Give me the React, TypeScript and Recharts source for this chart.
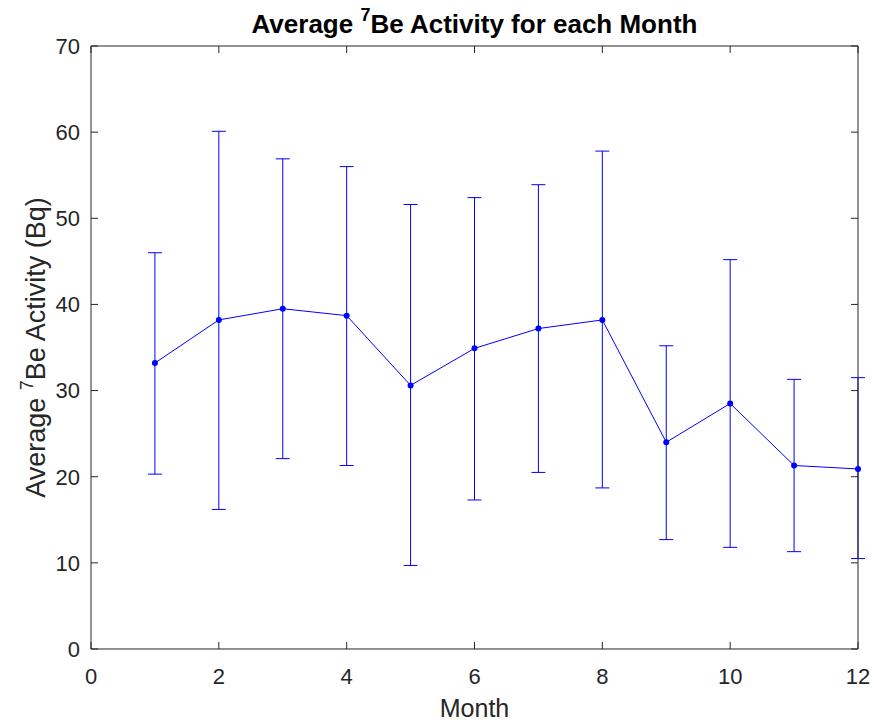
import React from 'react';
import { ComposedChart, Line, XAxis, YAxis, ErrorBar, Label } from 'recharts';

const months = [1, 2, 3, 4, 5, 6, 7, 8, 9, 10, 11, 12];
const meanActivity = [33.2, 38.2, 39.5, 38.7, 30.6, 34.9, 37.2, 38.2, 24.0, 28.5, 21.3, 20.9];
const upperBound = [46.0, 60.1, 56.9, 56.0, 51.6, 52.4, 53.9, 57.8, 35.2, 45.2, 31.3, 31.5];
const lowerBound = [20.3, 16.2, 22.1, 21.3, 9.7, 17.3, 20.5, 18.7, 12.7, 11.8, 11.3, 10.5];

const xTicks = [0, 2, 4, 6, 8, 10, 12];
const yTicks = [0, 10, 20, 30, 40, 50, 60, 70];

const data = months.map((m, i) => ({
  month: m,
  mean: meanActivity[i],
  err: [
    +(meanActivity[i] - lowerBound[i]).toFixed(2),
    +(upperBound[i] - meanActivity[i]).toFixed(2),
  ],
}));

const AXIS = '#262626';
const BLUE = '#0000ff';
const FONT = '"Liberation Sans", Arial, Helvetica, sans-serif';
// axes need a non-zero size to be drawn, but should take no room
const THIN = 0.001;

const blank = () => '';

function Title(props: any) {
  const vb = props.viewBox;
  return (
    <text
      x={vb.x + vb.width / 2}
      y={33}
      textAnchor="middle"
      fontSize={26}
      fontWeight="bold"
      fill="#000"
      fontFamily={FONT}
    >
      Average <tspan fontSize={18} dy={-12}>7</tspan>
      <tspan dy={12}>Be Activity for each Month</tspan>
    </text>
  );
}

function XTitle(props: any) {
  const vb = props.viewBox;
  return (
    <text x={vb.x + vb.width / 2} y={717} textAnchor="middle" fontSize={25} fill={AXIS} fontFamily={FONT}>
      Month
    </text>
  );
}

function YTitle(props: any) {
  const vb = props.viewBox;
  const cy = vb.y + vb.height / 2;
  return (
    <text
      transform={`translate(45, ${cy}) rotate(-90)`}
      textAnchor="middle"
      fontSize={27}
      fill={AXIS}
      fontFamily={FONT}
    >
      Average <tspan fontSize={18} dy={-12}>7</tspan>
      <tspan dy={12}>Be Activity (Bq)</tspan>
    </text>
  );
}

const tickStyle = { fontSize: 22, fill: AXIS, fontFamily: FONT };

export default function App() {
  return (
    <div style={{ position: 'absolute', left: 0, top: 0, width: 874, height: 725, background: '#fff' }}>
      <ComposedChart
        width={874}
        height={725}
        data={data}
        margin={{ top: 46, right: 16, bottom: 76, left: 91 }}
      >
        {/* labelled axes */}
        <XAxis
          xAxisId="main"
          dataKey="month"
          type="number"
          domain={[0, 12]}
          ticks={xTicks}
          interval={0}
          height={THIN}
          axisLine={false}
          tickLine={false}
          tickSize={0}
          tickMargin={19}
          tick={tickStyle}
        >
          <Label content={XTitle} />
        </XAxis>
        <YAxis
          yAxisId="main"
          type="number"
          domain={[0, 70]}
          ticks={yTicks}
          interval={0}
          width={THIN}
          axisLine={false}
          tickLine={false}
          tickSize={0}
          tickMargin={11}
          tick={tickStyle}
        >
          <Label content={YTitle} />
        </YAxis>

        {/* box frame with inward ticks */}
        <XAxis
          xAxisId="frameBottom"
          dataKey="month"
          type="number"
          domain={[0, 12]}
          ticks={xTicks}
          interval={0}
          orientation="bottom"
          mirror
          height={THIN}
          tickSize={7}
          stroke={AXIS}
          tickFormatter={blank}
        />
        <XAxis
          xAxisId="frameTop"
          dataKey="month"
          type="number"
          domain={[0, 12]}
          ticks={xTicks}
          interval={0}
          orientation="top"
          mirror
          height={THIN}
          tickSize={7}
          stroke={AXIS}
          tickFormatter={blank}
        >
          <Label content={Title} />
        </XAxis>
        <YAxis
          yAxisId="frameLeft"
          type="number"
          domain={[0, 70]}
          ticks={yTicks}
          interval={0}
          orientation="left"
          mirror
          width={THIN}
          tickSize={7}
          stroke={AXIS}
          tickFormatter={blank}
          allowDataOverflow
        />
        <YAxis
          yAxisId="frameRight"
          type="number"
          domain={[0, 70]}
          ticks={yTicks}
          interval={0}
          orientation="right"
          mirror
          width={THIN}
          tickSize={7}
          stroke={AXIS}
          tickFormatter={blank}
          allowDataOverflow
        />

        <Line
          xAxisId="main"
          yAxisId="main"
          dataKey="mean"
          stroke={BLUE}
          strokeWidth={1}
          dot={{ r: 3, fill: BLUE, stroke: BLUE, strokeWidth: 0 }}
          activeDot={false}
          isAnimationActive={false}
        >
          <ErrorBar dataKey="err" direction="y" width={7} stroke={BLUE} strokeWidth={1} isAnimationActive={false} />
        </Line>
      </ComposedChart>
    </div>
  );
}
